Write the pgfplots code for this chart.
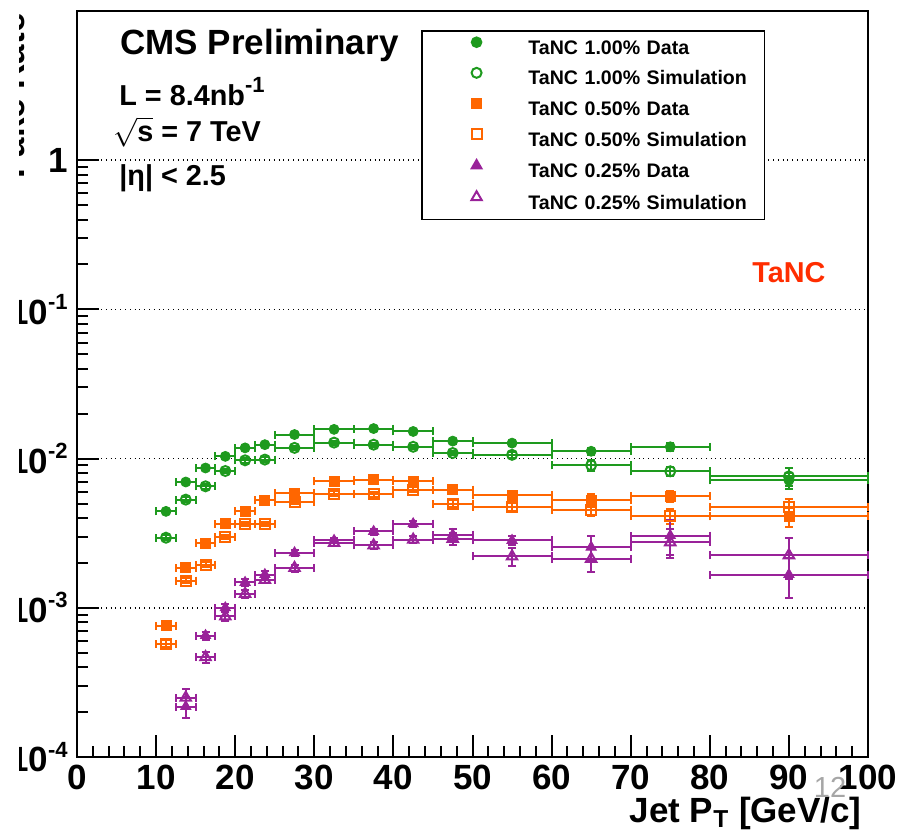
\documentclass[border=0pt]{standalone}
\usepackage{fontspec}
\setmainfont{Liberation Sans}
\usepackage{amsmath}
\usepackage{pgfplots}
\usepackage{pgfplotstable}
\pgfplotsset{compat=1.18}
\definecolor{tgreen}{HTML}{1E9A1E}
\definecolor{torange}{HTML}{FF6600}
\definecolor{tpurple}{HTML}{992299}
\definecolor{tred}{HTML}{FF2D00}
\newcommand\supr[1]{\raisebox{0.42em}{\fontsize{11}{12}\selectfont #1}}
\newcommand\bigf{\fontsize{17.5}{20}\selectfont\bfseries}
\newcommand\midf{\fontsize{14.4}{17}\selectfont\bfseries}

% x  y  ex  ey
\pgfplotstableread{
x     y        ex    ey
11.25 4.43e-3  1.25  0.18e-3
13.75 6.97e-3  1.25  0.25e-3
16.25 8.65e-3  1.25  0.3e-3
18.75 1.035e-2 1.25  0.35e-3
21.25 1.18e-2  1.25  0.4e-3
23.75 1.24e-2  1.25  0.4e-3
27.5  1.45e-2  2.5   0.4e-3
32.5  1.57e-2  2.5   0.45e-3
37.5  1.59e-2  2.5   0.5e-3
42.5  1.52e-2  2.5   0.5e-3
47.5  1.31e-2  2.5   0.5e-3
55    1.27e-2  5     0.5e-3
65    1.12e-2  5     0.6e-3
75    1.20e-2  5     0.7e-3
90    7.15e-3  10    0.9e-3
}\greendata
\pgfplotstableread{
x     y        ex    ey
11.25 2.95e-3  1.25  0.12e-3
13.75 5.31e-3  1.25  0.2e-3
16.25 6.52e-3  1.25  0.25e-3
18.75 8.26e-3  1.25  0.3e-3
21.25 9.74e-3  1.25  0.35e-3
23.75 9.85e-3  1.25  0.35e-3
27.5  1.18e-2  2.5   0.4e-3
32.5  1.28e-2  2.5   0.4e-3
37.5  1.24e-2  2.5   0.4e-3
42.5  1.20e-2  2.5   0.4e-3
47.5  1.09e-2  2.5   0.4e-3
55    1.06e-2  5     0.5e-3
65    9.02e-3  5     0.8e-3
75    8.22e-3  5     0.6e-3
90    7.60e-3  10    1.0e-3
}\greensim
\pgfplotstableread{
x     y        ex    ey
11.25 7.6e-4   1.25  0.35e-4
13.75 1.86e-3  1.25  0.07e-3
16.25 2.72e-3  1.25  0.1e-3
18.75 3.66e-3  1.25  0.13e-3
21.25 4.43e-3  1.25  0.15e-3
23.75 5.25e-3  1.25  0.18e-3
27.5  5.88e-3  2.5   0.2e-3
32.5  7.04e-3  2.5   0.25e-3
37.5  7.23e-3  2.5   0.25e-3
42.5  7.08e-3  2.5   0.3e-3
47.5  6.20e-3  2.5   0.3e-3
55    5.67e-3  5     0.4e-3
65    5.25e-3  5     0.5e-3
75    5.58e-3  5     0.5e-3
90    4.10e-3  10    0.6e-3
}\orangedata
\pgfplotstableread{
x     y        ex    ey
11.25 5.74e-4  1.25  0.3e-4
13.75 1.52e-3  1.25  0.06e-3
16.25 1.95e-3  1.25  0.08e-3
18.75 2.98e-3  1.25  0.1e-3
21.25 3.66e-3  1.25  0.12e-3
23.75 3.66e-3  1.25  0.12e-3
27.5  5.12e-3  2.5   0.18e-3
32.5  5.82e-3  2.5   0.2e-3
37.5  5.76e-3  2.5   0.2e-3
42.5  6.20e-3  2.5   0.25e-3
47.5  4.99e-3  2.5   0.25e-3
55    4.73e-3  5     0.3e-3
65    4.55e-3  5     0.4e-3
75    4.12e-3  5     0.5e-3
90    4.73e-3  10    0.6e-3
}\orangesim
\pgfplotstableread{
x     y        ex    ey
13.75 2.18e-4  1.25  0.35e-4
16.25 6.52e-4  1.25  0.4e-4
18.75 1.00e-3  1.25  0.06e-3
21.25 1.48e-3  1.25  0.08e-3
23.75 1.67e-3  1.25  0.09e-3
27.5  2.34e-3  2.5   0.1e-3
32.5  2.83e-3  2.5   0.12e-3
37.5  3.25e-3  2.5   0.15e-3
42.5  3.66e-3  2.5   0.18e-3
47.5  3.09e-3  2.5   0.3e-3
55    2.83e-3  5     0.2e-3
65    2.55e-3  5     0.5e-3
75    3.05e-3  5     0.8e-3
90    1.67e-3  10    0.5e-3
}\purpledata
\pgfplotstableread{
x     y        ex    ey
13.75 2.50e-4  1.25  0.35e-4
16.25 4.67e-4  1.25  0.4e-4
18.75 8.75e-4  1.25  0.06e-3
21.25 1.24e-3  1.25  0.07e-3
23.75 1.54e-3  1.25  0.08e-3
27.5  1.85e-3  2.5   0.1e-3
32.5  2.72e-3  2.5   0.12e-3
37.5  2.62e-3  2.5   0.13e-3
42.5  2.86e-3  2.5   0.15e-3
47.5  2.90e-3  2.5   0.25e-3
55    2.21e-3  5     0.3e-3
65    2.13e-3  5     0.4e-3
75    2.75e-3  5     0.6e-3
90    2.25e-3  10    0.7e-3
}\purplesim

\pgfplotsset{
  ebar/.style={error bars/.cd, x dir=both, x explicit, y dir=both, y explicit,
    error bar style={line width=1pt},
    error mark options={rotate=90, line width=1pt, mark size=2pt}},
  hollow/.style={mark options={line width=1pt, fill=white}},
}

\begin{document}
\begin{tikzpicture}
\begin{axis}[
  at={(0,0)}, anchor=south west,
  scale only axis, width=395.5pt, height=373pt,
  set layers, mark layer=axis foreground,
  xmin=0, xmax=100, ymode=log, ymin=1e-4, ymax=10,
  xtick={0,10,...,100}, minor x tick num=4,
  ytick={1e-4,1e-3,1e-2,1e-1,1},
  yticklabels={10\supr{-4},10\supr{-3},10\supr{-2},10\supr{-1},1},
  /pgf/number format/assume math mode=true,
  tick align=inside, xtick pos=left, ytick pos=left,
  major tick length=11pt, minor tick length=5.5pt,
  every tick/.style={black, line width=1pt},
  axis line style={line width=1.2pt},
  ymajorgrids, major grid style={black, dotted, line width=0.8pt},
  ticklabel style={font=\bigf},
  xticklabel style={inner sep=0pt, yshift=-4pt},
  yticklabel style={inner sep=0pt, xshift=-4.5pt},
  clip=false,
  legend cell align=left,
  legend style={at={(axis description cs:0.4355,0.9745)}, anchor=north west,
    draw=black, line width=0.8pt, fill=white,
    font=\fontsize{9.8}{11}\selectfont\bfseries,
    inner xsep=0pt, inner ysep=3.2pt, row sep=4.8pt,
    nodes={inner sep=0pt, text height=7pt, text depth=2pt},
    /tikz/every even column/.append style={nodes={text width=118pt}}},
  legend image code/.code={\path (0pt,0pt) (52.25pt,0pt);
    \draw[#1] plot coordinates {(26.75pt,3.5pt)};},
]
\addplot[only marks, color=tgreen, mark=*, mark size=2.5pt, ebar]
  table[x=x, y=y, x error=ex, y error=ey] {\greendata};
\addlegendentry{TaNC 1.00\% Data}
\addplot[only marks, color=tgreen, mark=o, mark size=2.5pt, hollow, ebar]
  table[x=x, y=y, x error=ex, y error=ey] {\greensim};
\addlegendentry{TaNC 1.00\% Simulation}
\addplot[only marks, color=torange, mark=square*, mark size=2.5pt, ebar]
  table[x=x, y=y, x error=ex, y error=ey] {\orangedata};
\addlegendentry{TaNC 0.50\% Data}
\addplot[only marks, color=torange, mark=square, mark size=2.5pt, hollow, ebar]
  table[x=x, y=y, x error=ex, y error=ey] {\orangesim};
\addlegendentry{TaNC 0.50\% Simulation}
\addplot[only marks, color=tpurple, mark=triangle*, mark size=3pt, ebar]
  table[x=x, y=y, x error=ex, y error=ey] {\purpledata};
\addlegendentry{TaNC 0.25\% Data}
\addplot[only marks, color=tpurple, mark=triangle, mark size=3pt, hollow, ebar]
  table[x=x, y=y, x error=ex, y error=ey] {\purplesim};
\addlegendentry{TaNC 0.25\% Simulation}

\coordinate (tl) at (rel axis cs:0,1);
\coordinate (br) at (rel axis cs:1,0);
\node[anchor=base west, font=\bigf, inner sep=0pt] at ([xshift=21.5pt, yshift=-22pt]tl) {CMS Preliminary};
\node[anchor=base west, font=\midf, inner sep=0pt] at ([xshift=21pt, yshift=-47pt]tl) {L = 8.4nb\supr{-1}};
\node[anchor=base west, font=\midf, inner sep=0pt] at ([xshift=18pt, yshift=-65.3pt]tl) {$\sqrt{\text{s}}$ = 7 TeV};
\node[anchor=base west, font=\midf, inner sep=0pt] at ([xshift=21pt, yshift=-87pt]tl) {|η| < 2.5};
\node[anchor=base west, font=\midf, text=tred, inner sep=0pt] at ([xshift=337.5pt, yshift=-135.5pt]tl) {TaNC};
\end{axis}
\node[rotate=90, anchor=base east, font=\bigf, inner sep=0pt] at ([xshift=-26pt, yshift=-1pt]tl) {Fake Rate};
\node[anchor=base east, font=\bigf, inner sep=0pt] at ([xshift=-3pt, yshift=-32.5pt]br) {Jet P\textsubscript{T} [GeV/c]};
\node[anchor=base, font=\fontsize{14.5}{16}\selectfont, text=black!35, inner sep=0pt] at ([xshift=-19pt, yshift=-20pt]br) {12};
% white strip along the left edge, as in the cropped original
\fill[white] (-39pt,-38pt) rectangle (-29pt,379pt);
\pgfresetboundingbox
\path (-38.5pt,-37.5pt) rectangle (413.5pt,378.5pt);
\end{tikzpicture}
\end{document}
